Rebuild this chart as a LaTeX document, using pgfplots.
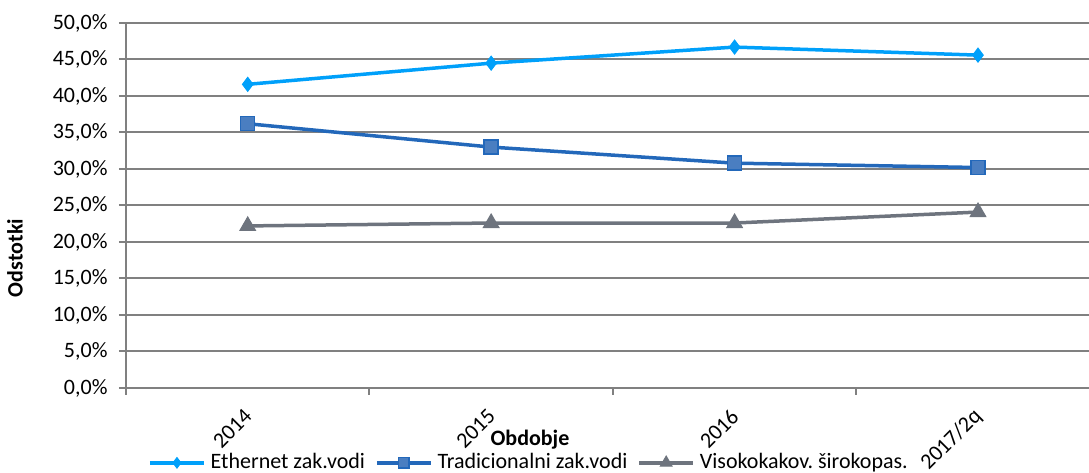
\documentclass[border=0pt]{standalone}
\usepackage{pgfplots}
\pgfplotsset{compat=1.18}
\usepackage{fontspec}
\setmainfont{Carlito}
\frenchspacing
\definecolor{eth}{RGB}{0,160,250}
\definecolor{trad}{RGB}{35,104,186}
\definecolor{tradfill}{RGB}{74,126,193}
\definecolor{vis}{RGB}{110,116,126}
\definecolor{gridc}{RGB}{128,128,128}

\begin{document}
\fontsize{22}{26}\selectfont
\begin{tikzpicture}
\begin{axis}[
    at={(0,0)}, anchor=south west, scale only axis,
    width=963pt, height=365pt,
    xmin=-0.5, xmax=3.456, ymin=0, ymax=50,
    axis x line*=bottom, axis y line*=left,
    axis line style={gridc, line width=2pt},
    tick style={gridc, line width=2pt},
    tick align=outside, major tick length=7pt,
    ytick={0,5,...,50},
    ymajorgrids, grid style={gridc, line width=2pt},
    /pgf/number format/assume math mode=true,
    yticklabel={\pgfmathprintnumber[fixed,fixed zerofill,precision=1,use comma]{\tick}\%},
    ticklabel style={font=\fontsize{22}{26}\selectfont},
    yticklabel style={xshift=-4pt},
    xtick={-0.5,0.5,1.5,2.5}, xticklabels={},
    extra x ticks={0,1,2,3},
    extra x tick labels={2014,2015,2016,2017/2q},
    extra x tick style={major tick length=0pt,
        xticklabel style={rotate=45, anchor=east, yshift=-18pt, xshift=-10pt}},
    xlabel={\textbf{Obdobje}},
    xlabel style={at={(axis description cs:0.4195,-0.1425)}, anchor=center, font=\fontsize{22}{26}\selectfont},
    ylabel={\textbf{Odstotki}},
    ylabel style={at={(axis description cs:-0.1153,0.356)}, anchor=center, font=\fontsize{22}{26}\selectfont},
    legend style={at={(axis description cs:0.4185,-0.205)}, anchor=center,
        draw=none, fill=none, legend columns=-1,
        font=\fontsize{22}{26}\selectfont,
        /tikz/every odd column/.append style={column sep=3pt},
        /tikz/every even column/.append style={column sep=8pt}},
    legend image code/.code={\draw[line width=3.5pt, mark repeat=2,mark phase=2, every mark/.append style={scale=0.75}] plot coordinates {(0pt,0pt)(27pt,0pt)(54pt,0pt)};},
    clip=false,
]
\addplot[eth, line width=3.5pt, mark=diamond*, mark size=7pt, mark options={solid, fill=eth, line width=1pt}]
    coordinates {(0,41.6)(1,44.5)(2,46.7)(3,45.6)};
\addlegendentry{Ethernet zak.vodi}
\addplot[trad, line width=3.5pt, mark=square*, mark size=7pt, mark options={solid, fill=tradfill, draw=trad, line width=1.5pt}]
    coordinates {(0,36.2)(1,33.0)(2,30.8)(3,30.2)};
\addlegendentry{Tradicionalni zak.vodi}
\addplot[vis, line width=3.5pt, mark=triangle*, mark size=9pt, mark options={solid, fill=vis, line width=1pt}]
    coordinates {(0,22.2)(1,22.6)(2,22.6)(3,24.1)};
\addlegendentry{Visokokakov. širokopas.}
\end{axis}
\pgfresetboundingbox
\useasboundingbox (-126pt,-85pt) rectangle (963pt,388pt);
\end{tikzpicture}
\end{document}
